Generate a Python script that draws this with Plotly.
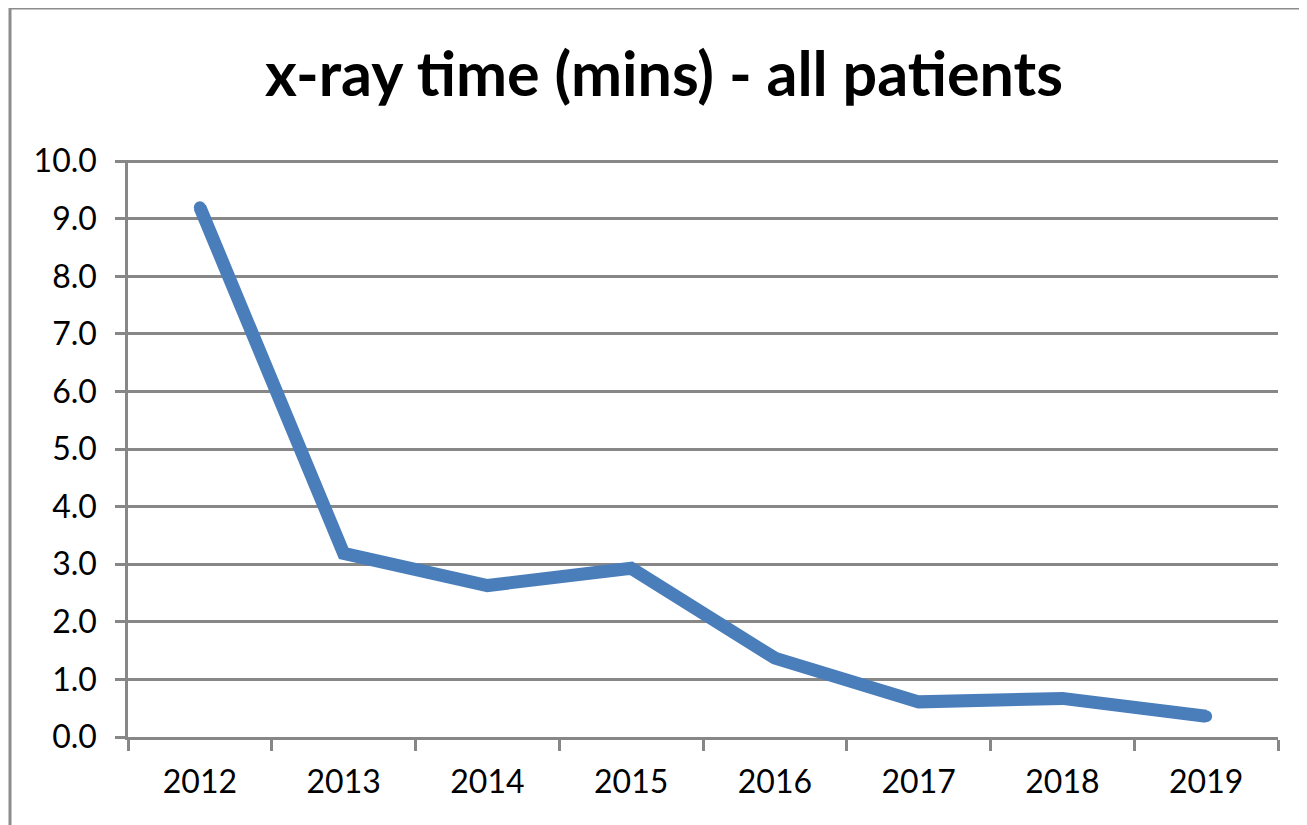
import plotly.graph_objects as go

years = ["2012", "2013", "2014", "2015", "2016", "2017", "2018", "2019"]
xray_mins = [9.2, 3.19, 2.63, 2.93, 1.37, 0.61, 0.67, 0.36]
y_ticks = [0, 1, 2, 3, 4, 5, 6, 7, 8, 9, 10]

grid_col = "#878787"
line_col = "#4a7ebb"
font_fam = "Lato, Open Sans, sans-serif"

fig = go.Figure()
fig.add_trace(go.Scatter(
    x=years, y=xray_mins, mode="lines+markers",
    line=dict(color=line_col, width=13),
    marker=dict(color=line_col, size=12),  # gives the rounded ends/joins
    hoverinfo="x+y",
))

# page has ~8px body margin, so offsets are shifted to compensate
fig.update_layout(
    width=1307, height=825,
    paper_bgcolor="white", plot_bgcolor="white",
    margin=dict(l=120, r=37, t=152, b=96),
    showlegend=False,
    title=dict(
        text="<b>x-ray time (mins) - all patients</b>",
        x=0.502, xanchor="center", y=0.919, yanchor="middle",
        font=dict(family=font_fam, size=61, color="black"),
    ),
    font=dict(family=font_fam, size=32, color="black"),
)

fig.update_xaxes(
    type="category", range=[-0.5, 7.5], tickson="boundaries",
    ticks="outside", ticklen=11,
    tickwidth=2.5, tickcolor=grid_col, showline=True, linecolor=grid_col,
    linewidth=2.5, showgrid=False, ticklabelstandoff=15,
)
fig.update_yaxes(
    range=[0, 10.02], tickvals=y_ticks, tickformat=".1f",
    ticks="outside", ticklen=10, tickwidth=2.5, tickcolor=grid_col,
    showline=True, linecolor=grid_col, linewidth=2.5,
    showgrid=True, gridcolor=grid_col, gridwidth=2.5,
    zeroline=False, ticklabelstandoff=12,
)

# outer chart border (left and top edges visible in the source)
fig.add_shape(type="line", xref="paper", yref="paper",
              x0=-0.1026, x1=1.2, y0=1.2634, y1=1.2634,
              line=dict(color="#8c8c8c", width=3))
fig.add_shape(type="line", xref="paper", yref="paper",
              x0=-0.1026, x1=-0.1026, y0=1.2634, y1=-0.3,
              line=dict(color="#8c8c8c", width=3))

fig.write_html("out.html")
